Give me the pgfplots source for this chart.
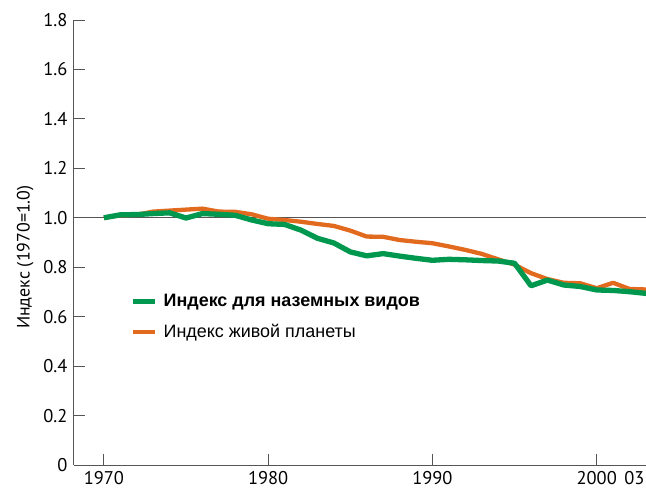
\documentclass[border=0pt]{standalone}
\usepackage{fontspec}
\setmainfont{Liberation Sans}
\newfontfamily\ptsans{PT Sans}
\usepackage{pgfplots}
\pgfplotsset{compat=1.18}
\definecolor{lgreen}{RGB}{0,152,78}
\definecolor{lorange}{RGB}{226,106,30}
\definecolor{axgray}{RGB}{85,85,85}
\begin{document}
\begin{tikzpicture}
\begin{axis}[
  scale only axis, width=572bp, height=445bp,
  xmin=1968.18, xmax=2003, ymin=0, ymax=1.8,
  axis lines=left, axis line style={axgray, line width=1bp, -},
  xtick={1970,1980,1990,2000}, xticklabels={1970,1980,1990,2000},
  extra x ticks={2003}, extra x tick labels={03},
  extra x tick style={xticklabel style={anchor=north east, xshift=2bp}},
  ytick={0,0.2,0.4,0.6,0.8,1.0,1.2,1.4,1.6,1.8},
  yticklabels={0,0.2,0.4,0.6,0.8,1.0,1.2,1.4,1.6,1.8},
  tick style={axgray, line width=0.8bp},
  tick align=inside, major tick length=11bp,
  ticklabel style={font=\ptsans\fontsize{18.5}{21}\selectfont, text=black},
  xticklabel style={yshift=-3bp},
  yticklabel style={xshift=-3bp},
  ylabel={Индекс (1970=1.0)},
  ylabel style={font=\ptsans\fontsize{18}{21}\selectfont, at={(ticklabel cs:0.467,3bp)}},
  reverse legend,
  legend style={at={(rel axis cs:0.093,0.333)}, anchor=west, draw=none, fill=none,
    font=\fontsize{18}{21}\selectfont, row sep=12bp, cells={anchor=west}},
  legend image code/.code={\draw[#1] (0bp,0bp) -- (22bp,0bp);},
  legend cell align=left,
  line join=round,
]
\coordinate (O) at (rel axis cs:0,0);
\addplot[axgray, line width=0.9bp, forget plot] coordinates {(1968.18,1) (2003,1)};
\addplot[lorange, line width=4.3bp] coordinates {
(1970,1.000) (1971,1.010) (1972,1.012) (1973,1.025) (1974,1.029) (1975,1.033)
(1976,1.037) (1977,1.025) (1978,1.024) (1979,1.014) (1980,0.996) (1981,0.991)
(1982,0.984) (1983,0.975) (1984,0.967) (1985,0.948) (1986,0.924) (1987,0.923)
(1988,0.910) (1989,0.903) (1990,0.897) (1991,0.884) (1992,0.870) (1993,0.854)
(1994,0.832) (1995,0.810) (1996,0.776) (1997,0.752) (1998,0.737) (1999,0.735)
(2000,0.715) (2001,0.737) (2002,0.712) (2003,0.710)};
\addlegendentry{\hspace{4bp}Индекс живой планеты}
\addplot[lgreen, line width=5.3bp] coordinates {
(1970,1.000) (1971,1.012) (1972,1.013) (1973,1.017) (1974,1.020) (1975,0.999)
(1976,1.017) (1977,1.014) (1978,1.010) (1979,0.991) (1980,0.976) (1981,0.973)
(1982,0.950) (1983,0.917) (1984,0.898) (1985,0.862) (1986,0.846) (1987,0.855)
(1988,0.845) (1989,0.836) (1990,0.828) (1991,0.832) (1992,0.830) (1993,0.827)
(1994,0.825) (1995,0.816) (1996,0.725) (1997,0.748) (1998,0.728) (1999,0.722)
(2000,0.708) (2001,0.706) (2002,0.701) (2003,0.694)};
\addlegendentry{\hspace{4bp}\textbf{Индекс для наземных видов}}
\end{axis}
\pgfresetboundingbox
\path (O) ++(-74bp,-25bp) rectangle ++(646bp,490bp);
\end{tikzpicture}
\end{document}
